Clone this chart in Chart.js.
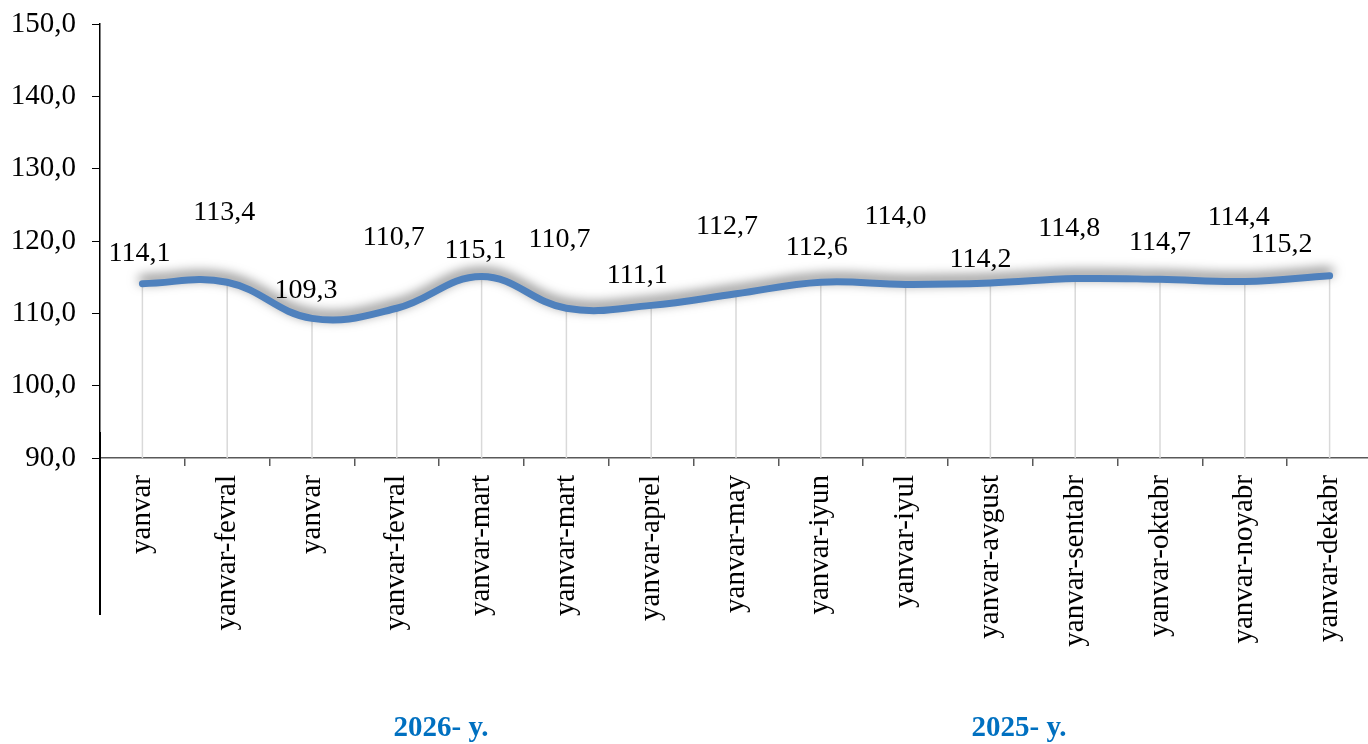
<!DOCTYPE html>
<html>
<head>
<meta charset="utf-8">
<script src="https://cdn.jsdelivr.net/npm/chart.js@4"></script>
<style>
    html, body { margin: 0; padding: 0; background: #ffffff; overflow: hidden; }
    #wrap { width: 1372px; height: 744px; }
</style>
</head>
<body>
<div id="wrap"><canvas id="lineChart" width="1372" height="744"></canvas></div>
<script>
// Chart data
const categories = [
    'yanvar', 'yanvar-fevral', 'yanvar', 'yanvar-fevral', 'yanvar-mart',
    'yanvar-mart', 'yanvar-aprel', 'yanvar-may', 'yanvar-iyun', 'yanvar-iyul',
    'yanvar-avgust', 'yanvar-sentabr', 'yanvar-oktabr', 'yanvar-noyabr', 'yanvar-dekabr'
];
const lineValues = [114.1, 114.3, 109.3, 110.7, 115.1, 110.7, 111.1, 112.7, 114.3, 114.0, 114.2, 114.8, 114.7, 114.4, 115.2];
const valueLabels = ['114,1', '113,4', '109,3', '110,7', '115,1', '110,7', '111,1', '112,7', '112,6', '114,0', '114,2', '114,8', '114,7', '114,4', '115,2'];
const groupLabels = ['2026- y.', '2025- y.'];

// Layout only: where each value label sits relative to its point (px)
const labelOffsets = [
    [-3, -30], [-3, -70], [-6, -28], [-3, -71], [-6, -26],
    [-7, -69], [-14, -30], [-9, -67], [-4, -35], [-10, -68],
    [-10, -23], [-6, -50], [0, -37], [-6, -64], [-48, -31]
];
const groupLabelPos = [[441, 729], [1019, 729]];

const serif = "'Liberation Serif', 'Times New Roman', serif";
const lineColor = '#4f81bd';

// Drop lines from each point down to the axis, plus a soft shadow on the line
const decorPlugin = {
    id: 'decor',
    beforeDatasetsDraw(chart) {
        const ctx = chart.ctx;
        const meta = chart.getDatasetMeta(0);
        const bottom = chart.chartArea.bottom;
        ctx.save();
        ctx.strokeStyle = '#d9d9d9';
        ctx.lineWidth = 1.5;
        meta.data.forEach(pt => {
            ctx.beginPath();
            ctx.moveTo(pt.x, pt.y);
            ctx.lineTo(pt.x, bottom);
            ctx.stroke();
        });
        ctx.restore();
    },
    beforeDatasetDraw(chart) {
        const ctx = chart.ctx;
        ctx.save();
        ctx.shadowColor = 'rgba(0, 0, 0, 0.6)';
        ctx.shadowBlur = 12;
        ctx.shadowOffsetX = 0;
        ctx.shadowOffsetY = -4;
    },
    afterDatasetDraw(chart) {
        chart.ctx.restore();
    },
    afterDatasetsDraw(chart) {
        const ctx = chart.ctx;
        const meta = chart.getDatasetMeta(0);
        ctx.save();
        ctx.font = '28px ' + serif;
        ctx.fillStyle = '#000000';
        ctx.textAlign = 'center';
        ctx.textBaseline = 'middle';
        meta.data.forEach((pt, i) => {
            const off = labelOffsets[i];
            ctx.fillText(valueLabels[i], pt.x + off[0], pt.y + off[1]);
        });
        ctx.restore();
    },
    afterDraw(chart) {
        const ctx = chart.ctx;
        const area = chart.chartArea;
        ctx.save();
        // group separator below the axis
        ctx.strokeStyle = '#000000';
        ctx.lineWidth = 2;
        ctx.beginPath();
        ctx.moveTo(area.left, area.bottom - 26);
        ctx.lineTo(area.left, 615);
        ctx.stroke();
        // year labels
        ctx.font = 'bold 29px ' + serif;
        ctx.fillStyle = '#0070c0';
        ctx.textAlign = 'center';
        ctx.textBaseline = 'middle';
        groupLabels.forEach((txt, i) => {
            ctx.fillText(txt, groupLabelPos[i][0], groupLabelPos[i][1]);
        });
        ctx.restore();
    }
};

const ctx = document.getElementById('lineChart').getContext('2d');
new Chart(ctx, {
    type: 'line',
    data: {
        labels: categories,
        datasets: [{
            data: lineValues,
            borderColor: lineColor,
            borderWidth: 7,
            borderCapStyle: 'round',
            borderJoinStyle: 'round',
            tension: 0.4,
            pointRadius: 0,
            fill: false
        }]
    },
    options: {
        responsive: false,
        animation: false,
        layout: { padding: { top: 24, left: 0, right: 0, bottom: 0 } },
        scales: {
            y: {
                min: 90,
                max: 150,
                ticks: {
                    stepSize: 10,
                    color: '#000000',
                    font: { family: serif, size: 29 },
                    padding: 16,
                    callback: v => v.toFixed(1).replace('.', ',')
                },
                grid: {
                    drawOnChartArea: false,
                    drawTicks: true,
                    tickLength: 8,
                    color: '#000000',
                    lineWidth: 1
                },
                border: { color: '#000000', width: 1.5 },
                afterFit: scale => {
                    scale.width = 100;
                    scale.paddingTop = 0;
                    scale.paddingBottom = 0;
                }
            },
            x: {
                offset: true,
                ticks: {
                    color: '#000000',
                    font: { family: serif, size: 29 },
                    minRotation: 90,
                    maxRotation: 90,
                    autoSkip: false,
                    padding: 9
                },
                grid: {
                    offset: true,
                    drawOnChartArea: false,
                    drawTicks: true,
                    tickLength: 8,
                    color: '#595959',
                    lineWidth: 1.5
                },
                border: { color: '#595959', width: 1.5 },
                afterFit: scale => {
                    scale.height = 286;
                    scale.paddingLeft = 0;
                    scale.paddingRight = 0;
                }
            }
        },
        plugins: {
            legend: { display: false },
            tooltip: { enabled: false }
        }
    },
    plugins: [decorPlugin]
});
</script>
</body>
</html>
